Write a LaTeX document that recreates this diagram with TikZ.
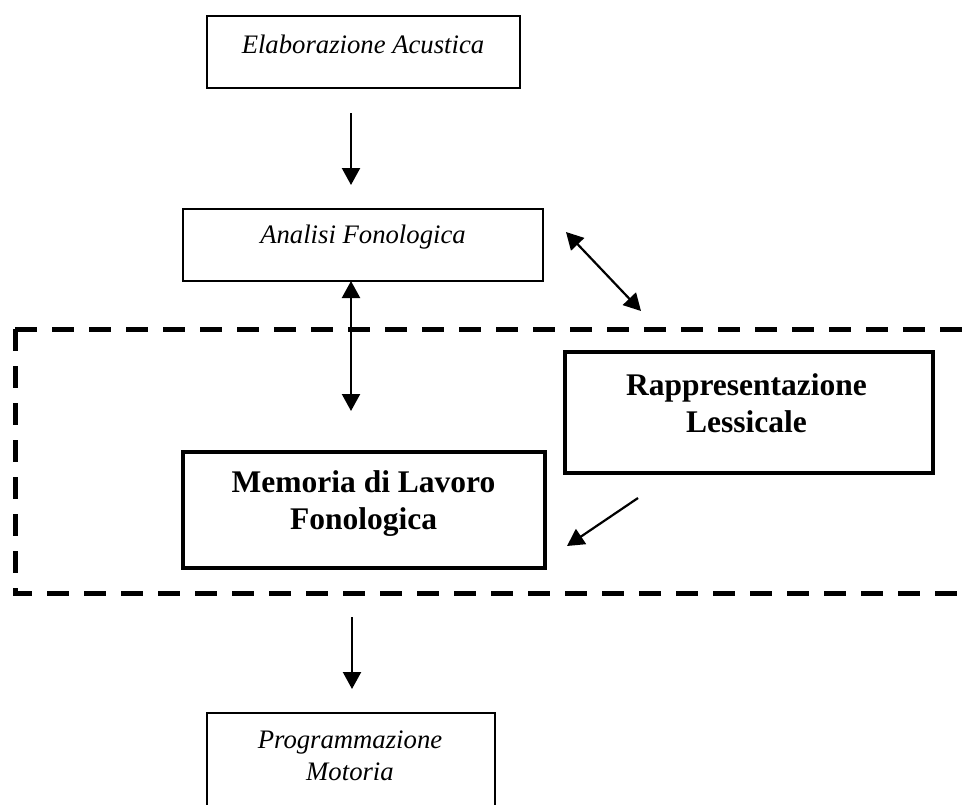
\documentclass[tikz,border=0pt]{standalone}
\usepackage{fontspec}
\setmainfont{Liberation Serif}
\usetikzlibrary{arrows.meta}
\tikzset{
  thinbox/.style={draw=black, line width=2.6pt, rectangle, inner sep=0pt},
  thickbox/.style={draw=black, line width=4.5pt, rectangle, inner sep=0pt},
  itl/.style={font=\fontsize{26.7}{32}\selectfont\itshape, align=center, inner sep=0pt, anchor=base},
  bld/.style={font=\fontsize{31.5}{37}\selectfont\bfseries, align=center, inner sep=0pt, anchor=base},
  conn/.style={line width=2.2pt, -{Triangle[length=17pt,width=18pt]}},
  dconn/.style={line width=2.2pt, {Triangle[length=17pt,width=18pt]}-{Triangle[length=17pt,width=18pt]}},
  dashbox/.style={line width=5pt, dash pattern=on 22pt off 15pt}
}
\begin{document}
\begin{tikzpicture}[x=1pt, y=-1pt]
\useasboundingbox (0,0) rectangle (967,804);
\clip (0,0) rectangle (967,804);
\fill[white] (0,0) rectangle (967,804);

% dashed region
\draw[dashbox] (15,329) -- (990,329);
\draw[dashbox, line join=miter] (15,329) -- (15,593) -- (990,593);

% boxes
\node[thinbox, minimum width=313pt, minimum height=72pt] (ea) at (363.5,52) {};
\node[thinbox, minimum width=360pt, minimum height=72pt] (af) at (363,245) {};
\node[thickbox, minimum width=368pt, minimum height=121pt] (rl) at (749,412.5) {};
\node[thickbox, minimum width=362pt, minimum height=116pt] (ml) at (364,510) {};
\node[thinbox, minimum width=288pt, minimum height=140pt] (pm) at (351,783) {};

% texts (base anchor = baseline of the last line)
\node[itl] (tea) at (363,53) {Elaborazione Acustica};
\node[itl] (taf) at (363,243) {Analisi Fonologica};
\node[bld] (trl) at (746.5,432) {Rappresentazione\\Lessicale};
\node[bld] (tml) at (363.5,529) {Memoria di Lavoro\\Fonologica};
\node[itl] (tpm) at (350,780) {Programmazione\\Motoria};

% connector end points
\coordinate (a1s) at (351,113);
\coordinate (a1e) at (351,185);
\coordinate (a2s) at (351,281);
\coordinate (a2e) at (351,411);
\coordinate (a3s) at (566,232);
\coordinate (a3e) at (641,311);
\coordinate (a4s) at (638,498);
\coordinate (a4e) at (567,546);
\coordinate (a5s) at (352,617);
\coordinate (a5e) at (352,689);

\draw[conn] (a1s) -- (a1e);
\draw[dconn] (a2s) -- (a2e);
\draw[dconn] (a3s) -- (a3e);
\draw[conn] (a4s) -- (a4e);
\draw[conn] (a5s) -- (a5e);
\end{tikzpicture}
\end{document}
